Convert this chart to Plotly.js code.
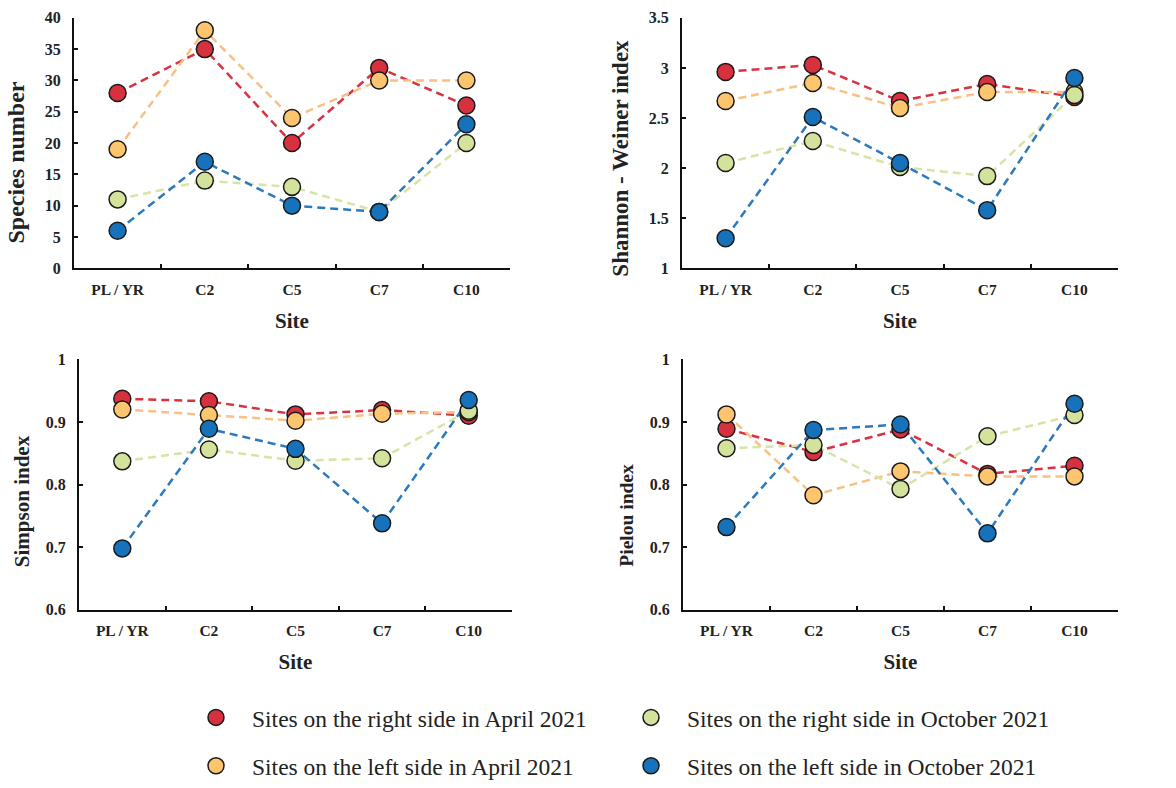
<!DOCTYPE html>
<html>
<head>
<meta charset="utf-8">
<script src="https://cdn.plot.ly/plotly-3.0.1.min.js"></script>
<style>html,body{margin:0;padding:0;background:#fff;}#chart{width:1176px;height:788px;}</style>
</head>
<body>
<div id="chart"></div>
<script>
// ---- data ----
const sites = ['PL / YR', 'C2', 'C5', 'C7', 'C10'];
const seriesNames = [
  'Sites on the right side in April 2021',
  'Sites on the left side in April 2021',
  'Sites on the right side in October 2021',
  'Sites on the left side in October 2021'
];
// Species number
const speciesRightApr = [28, 35, 20, 32, 26];
const speciesLeftApr  = [19, 38, 24, 30, 30];
const speciesRightOct = [11, 14, 13, 9, 20];
const speciesLeftOct  = [6, 17, 10, 9, 23];
// Shannon - Weiner index
const shannonRightApr = [2.96, 3.03, 2.67, 2.84, 2.71];
const shannonLeftApr  = [2.67, 2.85, 2.60, 2.76, 2.76];
const shannonRightOct = [2.05, 2.27, 2.01, 1.92, 2.73];
const shannonLeftOct  = [1.30, 2.51, 2.05, 1.58, 2.90];
// Simpson index
const simpsonRightApr = [0.937, 0.933, 0.912, 0.919, 0.910];
const simpsonLeftApr  = [0.920, 0.911, 0.902, 0.913, 0.916];
const simpsonRightOct = [0.837, 0.856, 0.838, 0.842, 0.918];
const simpsonLeftOct  = [0.698, 0.889, 0.857, 0.738, 0.935];
// Pielou index
const pielouRightApr = [0.889, 0.852, 0.888, 0.817, 0.830];
const pielouLeftApr  = [0.912, 0.783, 0.821, 0.813, 0.813];
const pielouRightOct = [0.858, 0.863, 0.793, 0.877, 0.911];
const pielouLeftOct  = [0.732, 0.887, 0.896, 0.722, 0.929];

const yTitles = ['Species number', 'Shannon - Weiner index', 'Simpson index', 'Pielou index'];
const xTitle = 'Site';
const yRanges = [[0, 40], [1, 3.5], [0.6, 1], [0.6, 1]];
const yDticks = [5, 0.5, 0.1, 0.1];

// ---- styles ----
const markerColors = ['#d7303e', '#fdc66e', '#d4e39b', '#1672ba'];
const lineColors   = ['#d83341', '#f8c183', '#d7e4a6', '#2b79be'];
const legendRank   = [1, 3, 2, 4];
const legendIds    = ['legend', 'legend2', 'legend', 'legend2'];
const serifFont = '"Liberation Serif", "Times New Roman", serif';

const panels = [
  [speciesRightApr, speciesLeftApr, speciesRightOct, speciesLeftOct],
  [shannonRightApr, shannonLeftApr, shannonRightOct, shannonLeftOct],
  [simpsonRightApr, simpsonLeftApr, simpsonRightOct, simpsonLeftOct],
  [pielouRightApr, pielouLeftApr, pielouRightOct, pielouLeftOct]
];
const axisIds = ['', '2', '3', '4'];

const traces = [];
panels.forEach((series, p) => {
  series.forEach((vals, s) => {
    traces.push({
      type: 'scatter', mode: 'lines', x: sites, y: vals,
      xaxis: 'x' + axisIds[p], yaxis: 'y' + axisIds[p],
      line: {color: lineColors[s], width: 2.5, dash: '8px,5px'},
      showlegend: false, hoverinfo: 'skip'
    });
  });
});
panels.forEach((series, p) => {
  series.forEach((vals, s) => {
    traces.push({
      type: 'scatter', mode: 'markers', x: sites, y: vals,
      xaxis: 'x' + axisIds[p], yaxis: 'y' + axisIds[p],
      name: seriesNames[s],
      marker: {color: markerColors[s], size: 17, line: {color: '#1a1a1a', width: 1.5}},
      showlegend: p === 0, legend: legendIds[s], legendrank: legendRank[s]
    });
  });
});

// panel boxes in pixels [left, right, top, bottom]
const W = 1176, H = 788;
const boxes = [[74, 510, 18, 271], [682, 1118, 18, 271], [79, 512, 363, 616], [683, 1118, 363, 616]];
// y-title placement in pixels: [center x, bottom y, font size]
const yTitlePos = [[16, 248, 24], [621, 281, 23], [22, 575, 21], [627, 575, 19.5]];

const legendCommon = {
  orientation: 'h', x: 180 / W, xanchor: 'left', yanchor: 'middle',
  itemwidth: 62, entrywidth: 358, font: {family: serifFont, size: 23.5, color: '#222'},
  bgcolor: 'rgba(0,0,0,0)'
};

const layout = {
  width: W, height: H,
  margin: {l: 0, r: 0, t: 0, b: 0},
  paper_bgcolor: '#ffffff', plot_bgcolor: 'rgba(0,0,0,0)',
  font: {family: serifFont, color: '#222'},
  showlegend: true,
  legend: Object.assign({}, legendCommon, {y: 1 - 725 / H}),
  legend2: Object.assign({}, legendCommon, {y: 1 - 774 / H}),
  annotations: []
};

boxes.forEach((b, i) => {
  const id = axisIds[i];
  layout['xaxis' + id] = {
    domain: [b[0] / W, b[1] / W],
    anchor: 'y' + id,
    type: 'category', range: [-0.5, 4.5],
    showline: true, linecolor: '#111', linewidth: 2,
    ticks: 'inside', ticklen: 4, tickwidth: 2, tickcolor: '#111', tickson: 'boundaries',
    showgrid: false, zeroline: false,
    ticklabelstandoff: 6,
    tickfont: {family: serifFont, size: 15.5, color: '#222', weight: 'bold'},
    title: {text: '<b>' + xTitle + '</b>', font: {family: serifFont, size: 21, color: '#222'}, standoff: 16},
    fixedrange: true
  };
  layout['yaxis' + id] = {
    domain: [1 - b[3] / H, 1 - b[2] / H],
    anchor: 'x' + id,
    range: yRanges[i], dtick: yDticks[i], tick0: yRanges[i][0],
    showline: true, linecolor: '#111', linewidth: 2,
    ticks: 'inside', ticklen: 4, tickwidth: 2, tickcolor: '#111',
    showgrid: false, zeroline: false,
    ticklabelstandoff: 8,
    tickfont: {family: serifFont, size: 16, color: '#222', weight: 'bold'},
    fixedrange: true
  };
  const tp = yTitlePos[i];
  layout.annotations.push({
    xref: 'paper', yref: 'paper', x: tp[0] / W, y: 1 - tp[1] / H,
    xanchor: 'center', yanchor: 'bottom', textangle: -90, showarrow: false,
    text: '<b>' + yTitles[i] + '</b>',
    font: {family: serifFont, size: tp[2], color: '#222'}
  });
});

Plotly.newPlot('chart', traces, layout, {displayModeBar: false, staticPlot: true});
</script>
</body>
</html>
